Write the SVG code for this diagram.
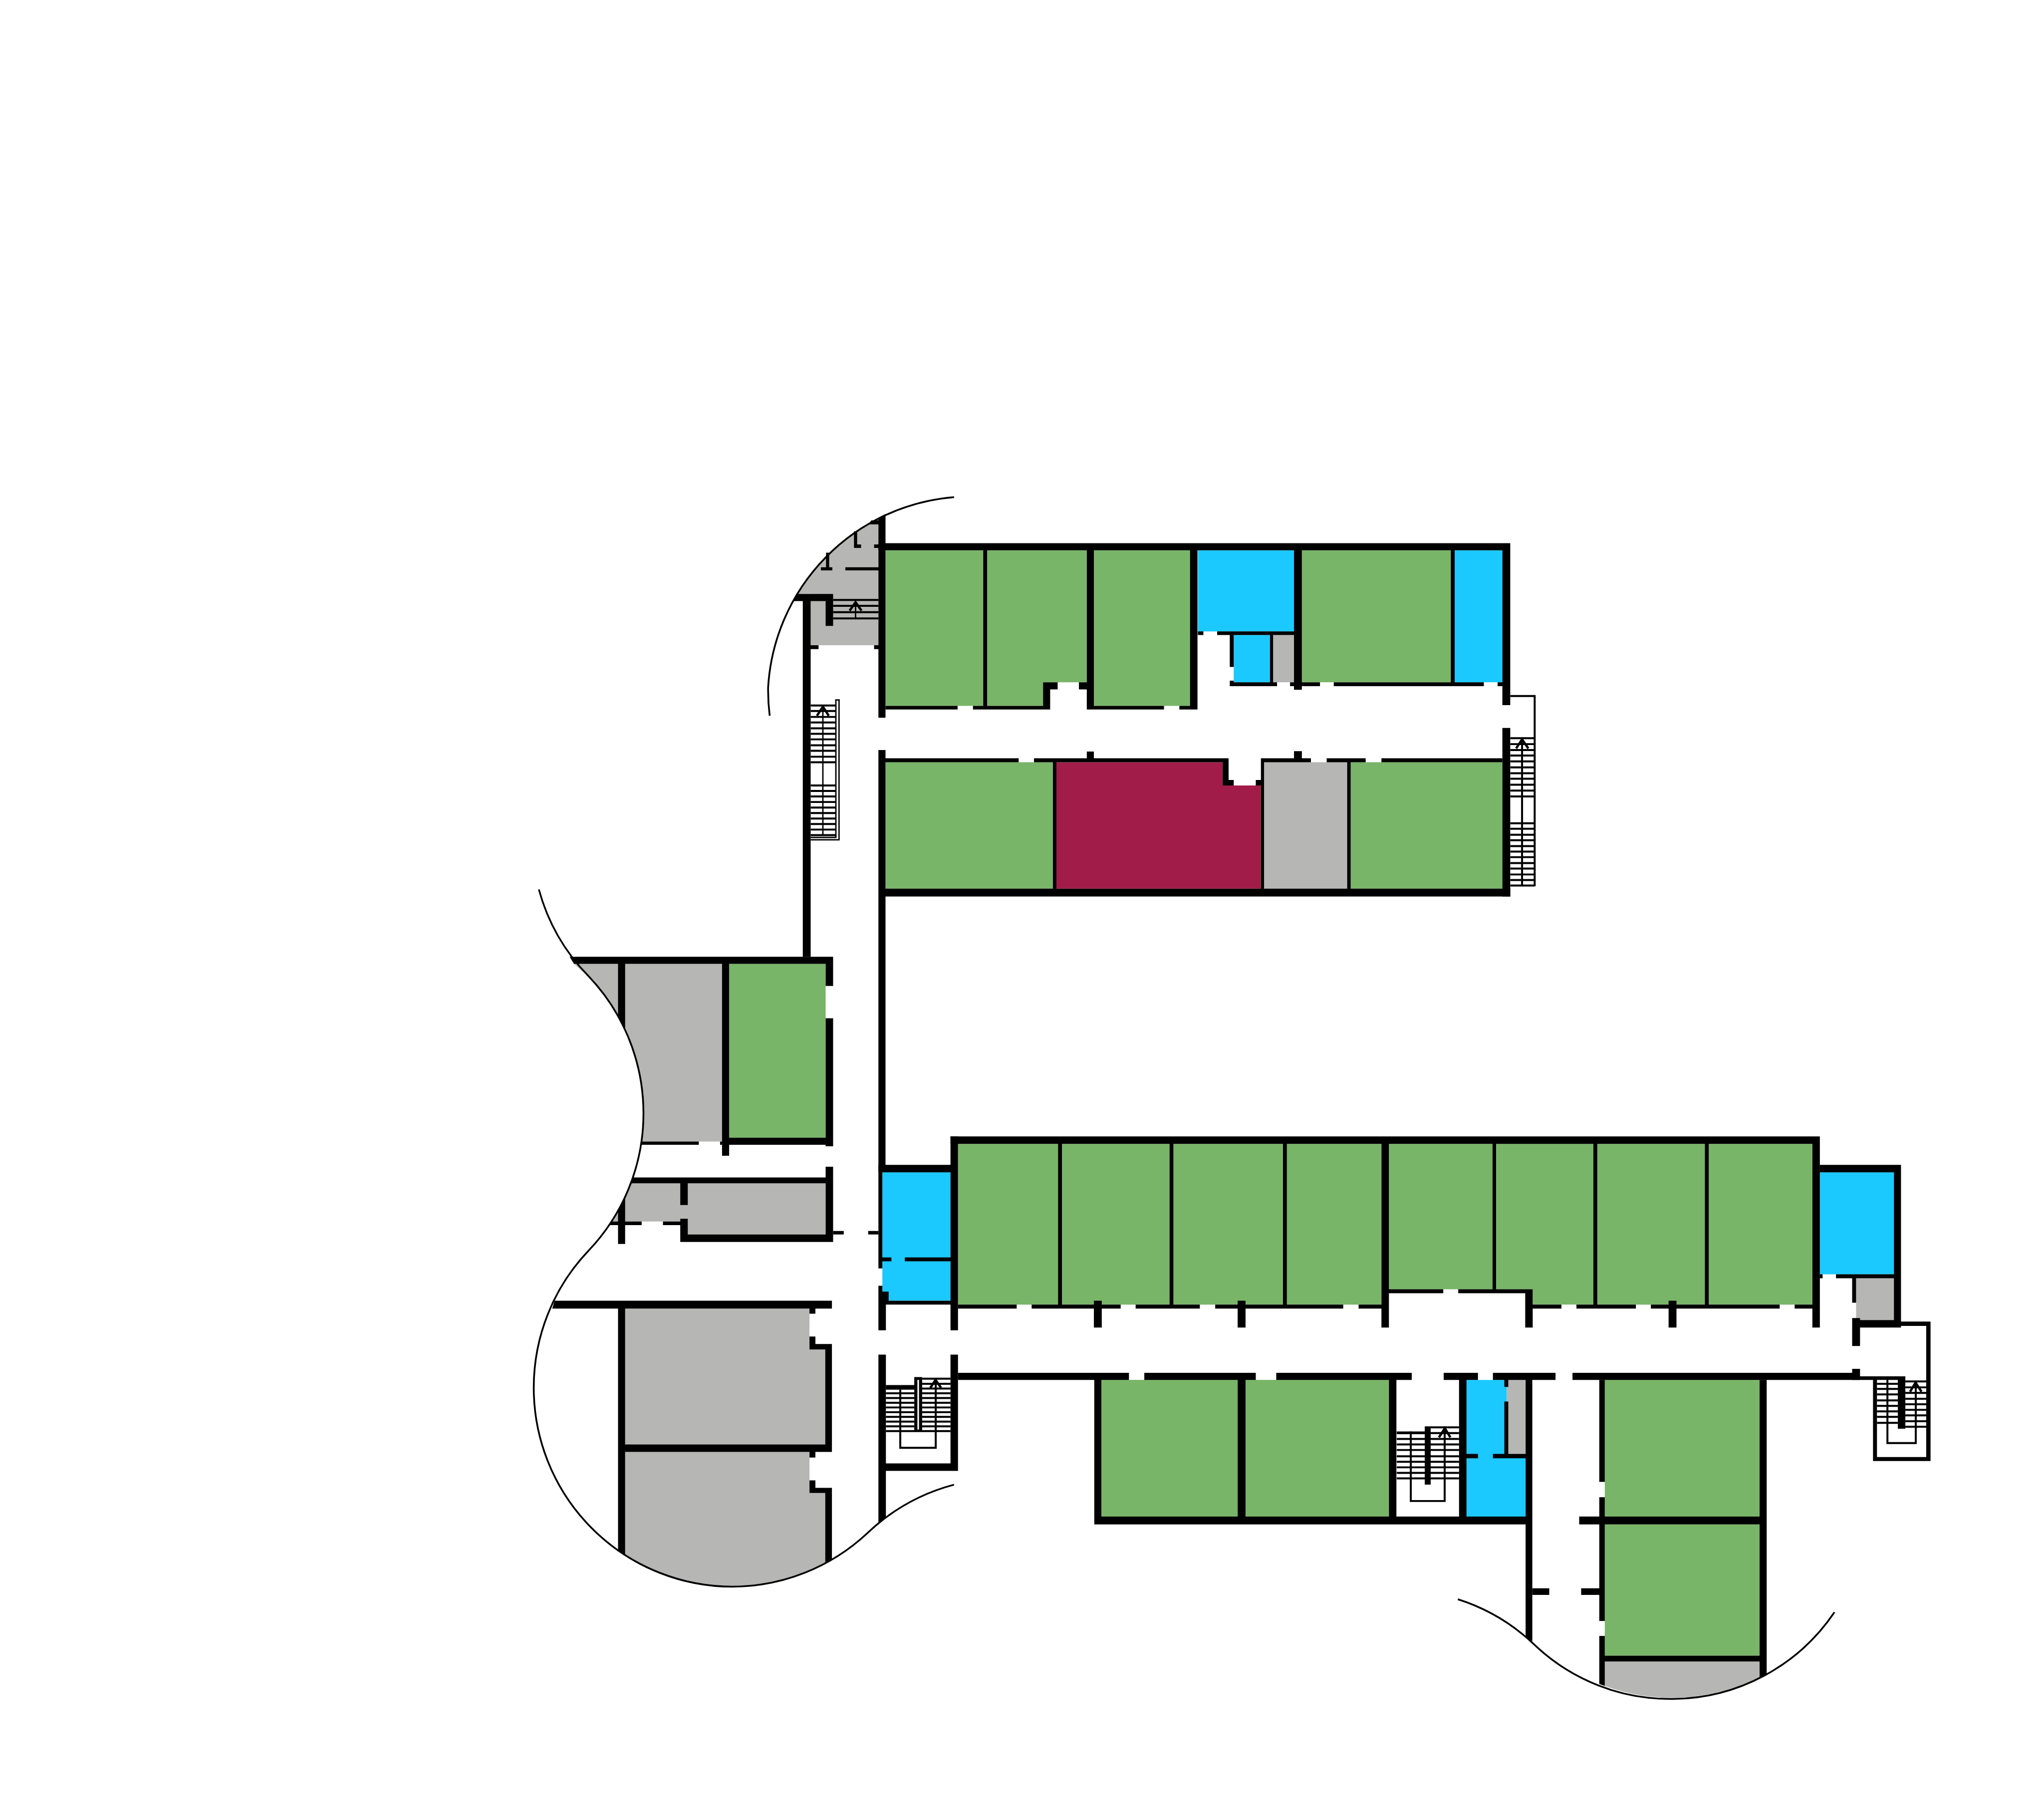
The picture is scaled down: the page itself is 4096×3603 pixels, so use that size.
<svg xmlns="http://www.w3.org/2000/svg" width="4096" height="3603" viewBox="0 0 4096 3603">
<style>
.g{fill:#79b568}.b{fill:#1bc9ff}.y{fill:#b6b6b4}.m{fill:#a11c48}.k{fill:#000}.w{fill:#fff}
.c{fill:none;stroke:#000;stroke-width:4.5}
.t{fill:none;stroke:#000;stroke-width:5}
.a{fill:none;stroke:#000;stroke-width:6}
.r{fill:none;stroke:#000;stroke-width:3.5}
</style>
<rect width="4096" height="3603" fill="#fff"/>
<g transform="scale(0.78936)">
<g id="rooms-green" class="g">
<rect x="2248" y="1397" width="248" height="395"/>
<path d="M2506 1397H2759V1732H2648V1792H2506Z"/>
<rect x="2777" y="1397" width="244" height="395"/>
<rect x="3305" y="1397" width="378" height="335"/>
<rect x="2248" y="1935" width="425" height="321"/>
<rect x="3429" y="1935" width="385" height="321"/>
<rect x="1851" y="2447" width="245" height="441"/>
<rect x="2432" y="2904" width="254" height="408"/>
<rect x="2696" y="2904" width="273" height="408"/>
<rect x="2979" y="2904" width="278" height="408"/>
<rect x="3267" y="2904" width="240" height="408"/>
<rect x="3526" y="2904" width="263" height="369"/>
<path d="M3798 2904H4045V3312H3891V3273H3798Z"/>
<rect x="4055" y="2904" width="273" height="408"/>
<rect x="4338" y="2904" width="263" height="408"/>
<rect x="2796" y="3503" width="346" height="347"/>
<rect x="3162" y="3503" width="364" height="347"/>
<rect x="4074" y="3503" width="393" height="347"/>
<rect x="4074" y="3870" width="393" height="333"/>
</g>
<g id="rooms-blue" class="b">
<rect x="3041" y="1397" width="244" height="206"/>
<rect x="3132" y="1612" width="92" height="120"/>
<rect x="3693" y="1397" width="121" height="335"/>
<rect x="2240" y="2976" width="173" height="326"/>
<rect x="4620" y="2976" width="188" height="259"/>
<path d="M3723 3503H3825V3691H3873V3850H3723Z"/>
</g>
<g id="rooms-grey" class="y">
<path d="M2230 1314V1638H2058V1508H2024A515 515 0 0 1 2230 1314Z"/>
<rect x="3232" y="1612" width="53" height="120"/>
<rect x="3209" y="1935" width="211" height="321"/>
<rect x="4712" y="3245" width="96" height="106"/>
<rect x="3825" y="3503" width="48" height="188"/>
<path d="M1457 2447H1833V2898H1628A505 505 0 0 0 1494 2478A504 504 0 0 1 1457 2447Z"/>
<path d="M1601 3004H2096V3134H1727V3101H1551A505 505 0 0 0 1601 3004Z"/>
<path d="M1587 3322H2055V3426H2095V3667H1587Z"/>
<path d="M1587 3686H2055V3790H2095V3968A505 505 0 0 1 1587 3948Z"/>
<path d="M4074 4218H4467V4258A500 500 0 0 1 4074 4280Z"/>
</g>
<path id="room-maroon" class="m" d="M2682 1935H3104V1994H3201V2256H2682Z"/>
<g id="walls" class="k">
<path d="M2230 1314L2248 1305V1822H2230ZM2038 1526H2058V2429H2038ZM2024 1508H2115V1526H2013ZM2096 1508H2115V1589H2096ZM2058 1638H2078V1648H2058ZM2219 1638H2230V1648H2219ZM2168 1349H2176V1391H2168ZM2168 1382H2186V1391H2168ZM2219 1382H2230V1391H2219ZM2097 1403H2105V1448H2097ZM2084 1440H2113V1448H2084ZM2146 1440H2230V1448H2146ZM2212 1321H2230V1331H2205Z"/>
<path d="M2230 1379H3834V1397H2230ZM2496 1397H2506V1792H2496ZM2759 1397H2777V1801H2759ZM3021 1397H3040V1801H3021ZM3285 1397H3305V1751H3285ZM3683 1397H3693V1732H3683ZM3814 1397H3834V1790H3814ZM3814 1848H3834V2276H3814ZM2248 1792H2431V1801H2248ZM2470 1792H2666V1801H2470ZM2648 1732H2666V1801H2648ZM2648 1732H2685V1750H2648ZM2739 1732H2759V1750H2739ZM2759 1792H2955V1801H2759ZM2994 1792H3040V1801H2994ZM3041 1603H3055V1612H3041ZM3090 1603H3285V1612H3090ZM3122 1612H3132V1693H3122ZM3122 1728H3132V1742H3122ZM3122 1732H3242V1742H3122ZM3275 1732H3351V1742H3275ZM3386 1732H3767V1742H3386ZM3802 1732H3814V1742H3802ZM3224 1612H3232V1732H3224Z"/>
<path d="M2248 1925H2586V1935H2248ZM2625 1925H3119V1935H2625ZM2759 1908H2777V1925H2759ZM2230 1904H2248V2975H2230ZM3104 1925H3119V1994H3104ZM3104 1980H3132V1994H3104ZM3188 1980H3201V1994H3188ZM3201 1925H3209V2256H3201ZM3201 1925H3328V1935H3201ZM3368 1925H3467V1935H3368ZM3507 1925H3814V1935H3507ZM3285 1907H3305V1925H3285ZM2673 1935H2682V2256H2673ZM3420 1935H3429V2256H3420ZM2230 2256H3834V2276H2230Z"/>
<path d="M1446 2429H2115V2447H1457ZM2096 2429H2115V2503H2096ZM2096 2585H2115V2910H2096ZM2096 2962H2115V3153H2096ZM1833 2888H2115V2906H1833ZM1833 2447H1851V2934H1833ZM1629 2898H1774V2906H1628ZM1828 2898H1833V2906H1828ZM1569 2447H1587V2618L1569 2583ZM1606 2989H2096V3004H1601ZM1727 3004H1746V3059H1727ZM1727 3094H1746V3153H1727ZM1727 3134H2115V3153H1727ZM1551 3101H1629V3110H1545ZM1683 3101H1727V3110H1683ZM1587 3038V3158H1569V3073Z"/>
<path d="M2115 3125H2142V3134H2115ZM2204 3125H2230V3134H2204ZM1408 3302H2112V3322H1402ZM1569 3322H1587V3948L1569 3936ZM2055 3322H2070V3335H2055ZM2055 3393H2070V3426H2055ZM2055 3412H2112V3426H2055ZM2095 3412H2112V3686H2095ZM1569 3667H2112V3686H1569ZM2055 3686H2070V3700H2055ZM2055 3758H2070V3790H2055ZM2055 3777H2112V3790H2055ZM2095 3777H2112V3958L2095 3968Z"/>
<path d="M2230 2957H2413V2976H2230ZM2230 2975H2240V3220H2230ZM2230 3264H2240V3302H2230ZM2230 3279H2256V3310H2230ZM2230 3302H2249V3377H2230ZM2249 3302H2413V3312H2249ZM2230 3439H2249V3850L2230 3866ZM2413 2885H2432V3377H2413ZM2413 3439H2432V3734H2413ZM2230 3715H2432V3734H2230ZM2240 3192H2263V3202H2240ZM2297 3192H2413V3202H2297Z"/>
<path d="M2413 2885H4620V2904H2413ZM2686 2904H2696V3312H2686ZM2969 2904H2979V3312H2969ZM3257 2904H3267V3312H3257ZM3507 2904H3526V3370H3507ZM3789 2904H3798V3273H3789ZM4045 2904H4055V3312H4045ZM4328 2904H4338V3312H4328ZM4601 2885H4620V3370H4601ZM2432 3312H2581V3322H2432ZM2619 3312H2845V3322H2619ZM2883 3312H3046V3322H2883ZM3085 3312H3410V3322H3085ZM3449 3312H3507V3322H3449ZM2777 3302H2797V3370H2777ZM3142 3302H3162V3370H3142ZM3526 3273H3664V3283H3526ZM3702 3273H3891V3283H3702ZM3872 3273H3891V3370H3872ZM3891 3312H3964V3322H3891ZM4002 3312H4153V3322H4002ZM4191 3312H4518V3322H4191ZM4556 3312H4601V3322H4556ZM4236 3302H4256V3370H4236Z"/>
<path d="M4620 2957H4826V2976H4620ZM4808 2957H4826V3370H4808ZM4620 3235H4627V3245H4620ZM4661 3235H4808V3245H4661ZM4702 3245H4712V3307H4702ZM4702 3346H4722V3417H4702ZM4702 3351H4826V3370H4702ZM4826 3355H4901V3366H4826ZM4890 3355H4901V3709H4890ZM4755 3699H4901V3709H4755ZM4755 3503H4765V3709H4755ZM4818 3494H4837V3627H4818ZM4721 3494H4837V3503H4721ZM4702 3475H4722V3503H4702Z"/>
<path d="M2432 3485H2866V3503H2432ZM2905 3485H3188V3503H2905ZM3240 3485H3584V3503H3240ZM3665 3485H3752V3503H3665ZM3790 3485H3949V3503H3790ZM3992 3485H4721V3503H3992ZM2778 3503H2796V3870H2778ZM3142 3503H3162V3850H3142ZM3526 3503H3545V3850H3526ZM3704 3503H3723V3850H3704ZM2778 3850H3890V3870H2778ZM3723 3691H3752V3702H3723ZM3790 3691H3873V3702H3790ZM3819 3503H3829V3521H3819ZM3819 3558H3829V3691H3819ZM3873 3503H3890V4167L3873 4153Z"/>
<path d="M4060 3503H4074V3762H4060ZM4060 3801H4074V4115H4060ZM4060 4153H4074V4280L4060 4275ZM4467 3503H4485V4250L4467 4258ZM4009 3850H4485V3870H4009ZM3890 4032H3933V4049H3890ZM4014 4032H4060V4049H4014ZM4060 4203H4485V4218H4060Z"/>
</g>
<g id="stairs">
<path class="t" d="M2115 1523H2230M2115 1538H2230M2115 1554H2230M2115 1570H2230"/>
<path class="r" d="M2172 1530V1570"/>
<path class="a" d="M2157 1550L2172 1529L2187 1550"/>
<path class="t" d="M2058 1791H2121M2058 1805H2121M2058 1820H2121M2058 1834H2121M2058 1849H2121M2058 1863H2121M2058 1877H2121M2058 1892H2121M2058 1906H2121M2058 1921H2121M2058 1935H2121M2058 1994H2121M2058 2008H2121M2058 2022H2121M2058 2036H2121M2058 2050H2121M2058 2064H2121M2058 2078H2121M2058 2092H2121M2058 2106H2121M2058 2120H2121"/>
<path class="r" d="M2089 1794V2122M2122 1777V2126H2058M2130 1777V2132H2058M2120 1777H2132"/>
<path class="a" d="M2074 1817L2089 1794L2104 1817"/>
<path class="t" d="M3834 1874H3896M3834 1889H3896M3834 1904H3896M3834 1918H3896M3834 1933H3896M3834 1948H3896M3834 1963H3896M3834 1977H3896M3834 1992H3896M3834 2007H3896M3834 2022H3896M3834 2090H3896M3834 2104H3896M3834 2119H3896M3834 2133H3896M3834 2148H3896M3834 2162H3896M3834 2176H3896M3834 2191H3896M3834 2205H3896M3834 2220H3896M3834 2234H3896M3834 2248H3896M3864 1876V2249M3834 1767H3896V2250"/>
<path class="a" d="M3849 1900L3864 1877L3880 1900"/>
<path class="k" d="M2321 3496H2341V3634H2321ZM2249 3516H2321V3528H2249Z"/>
<rect class="w" x="2329" y="3503" width="4" height="126"/>
<path class="t" d="M2249 3537H2321M2249 3549H2321M2249 3561H2321M2249 3573H2321M2249 3585H2321M2249 3597H2321M2249 3609H2321M2249 3621H2321M2249 3633H2413M2341 3500H2413M2341 3513H2413M2341 3525H2413M2341 3537H2413M2341 3549H2413M2341 3561H2413M2341 3573H2413M2341 3585H2413M2341 3597H2413M2341 3609H2413M2341 3621H2413M2285.5 3528V3675.5H2375.5V3503"/>
<path class="a" d="M2362 3523L2375 3503L2389 3523"/>
<path class="k" d="M3617 3621H3632V3769H3617ZM3617 3621H3704V3626H3617ZM3546 3634H3617V3641H3546Z"/>
<path class="t" d="M3546 3653H3704M3546 3667H3704M3546 3681H3704M3546 3697H3704M3546 3711H3704M3546 3725H3704M3546 3739H3704M3546 3753H3704M3632 3638H3704M3581.5 3634V3810.5H3667.5V3626"/>
<path class="a" d="M3653 3649L3668 3626L3682 3649"/>
<path class="t" d="M4765 3513H4818M4765 3526H4818M4765 3540H4818M4765 3555H4818M4765 3569H4818M4765 3583H4818M4765 3597H4818M4765 3612H4818M4837 3507H4890M4837 3522H4890M4837 3536H4890M4837 3551H4890M4837 3565H4890M4837 3579H4890M4837 3593H4890M4837 3608H4890M4837 3622H4890M4791.5 3503V3663.5H4863.5V3510"/>
<path class="a" d="M4849 3533L4863 3510L4878 3533"/>
</g>
<g id="outline">
<path class="c" d="M2422 1262A515 515 0 0 0 1950 1745A515 515 0 0 0 1954 1817"/>
<path class="c" d="M1368 2258A504 504 0 0 0 1494 2478A505 505 0 0 1 1494 3175A505 505 0 0 0 1355 3522A505 505 0 0 0 1860 4028A505 505 0 0 0 2202 3892A508 508 0 0 1 2422 3769"/>
<path class="c" d="M3701 4060A500 500 0 0 1 3895 4175A500 500 0 0 0 4247 4313A500 500 0 0 0 4657 4093"/>
</g>
</g>
</svg>
